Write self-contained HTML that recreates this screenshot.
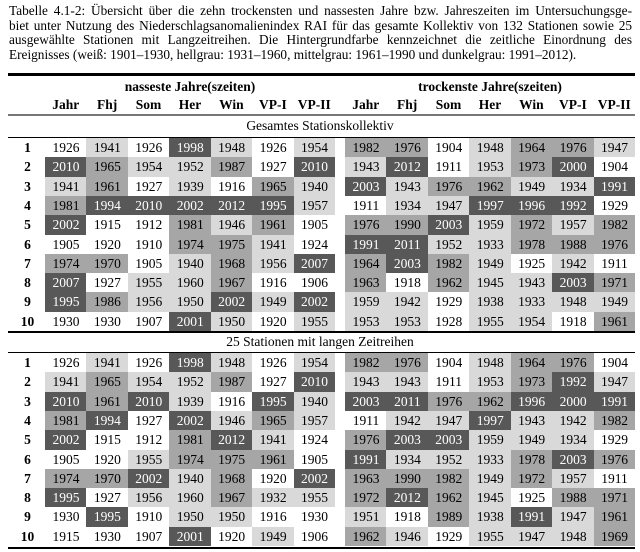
<!DOCTYPE html>
<html><head><meta charset="utf-8"><style>
html,body{margin:0;padding:0;background:#fff}
#root{position:relative;width:640px;height:552px;overflow:hidden;font-family:"Liberation Serif",serif;color:#000}
.t{position:absolute;left:9px;width:623px;font-size:13.3px;line-height:14.4px;white-space:nowrap}
.j{text-align:justify;text-align-last:justify}
.rule{position:absolute;left:8px;width:627px;background:#000}
.c{position:absolute;text-align:center;font-size:13.5px;line-height:19.3px;height:19.3px}
.h{position:absolute;text-align:center;font-weight:bold;font-size:13.5px}
.lab{position:absolute;text-align:center;font-size:13.5px;width:640px;left:0}
</style></head><body>
<div id="root">
<div class="t j" style="top:4px">Tabelle 4.1-2: Übersicht über die zehn trockensten und nassesten Jahre bzw. Jahreszeiten im Untersuchungsge-</div>
<div class="t j" style="top:18.5px">biet unter Nutzung des Niederschlagsanomalienindex RAI für das gesamte Kollektiv von 132 Stationen sowie 25</div>
<div class="t j" style="top:33px">ausgewählte Stationen mit Langzeitreihen. Die Hintergrundfarbe kennzeichnet die zeitliche Einordnung des</div>
<div class="t" style="top:47.5px">Ereignisses (weiß: 1901–1930, hellgrau: 1931–1960, mittelgrau: 1961–1990 und dunkelgrau: 1991–2012).</div>

<div class="rule" style="top:73px;height:2.5px"></div>
<div class="h" style="left:45px;width:290px;top:79px">nasseste Jahre(szeiten)</div>
<div class="h" style="left:345px;width:290px;top:79px">trockenste Jahre(szeiten)</div>
<div class="rule" style="top:114px;height:2px;background:#777"></div>
<div class="lab" style="top:118px">Gesamtes Stationskollektiv</div>
<div class="rule" style="top:136.5px;height:1px"></div>
<div class="rule" style="top:331px;height:2px"></div>
<div class="lab" style="top:334px">25 Stationen mit langen Zeitreihen</div>
<div class="rule" style="top:352px;height:1px"></div>
<div class="rule" style="top:546.5px;height:2.5px"></div>
</div>
<script>
const columns=["Jahr","Fhj","Som","Her","Win","VP-I","VP-II"];
const wetAll=[
[1926,1941,1926,1998,1948,1926,1954],
[2010,1965,1954,1952,1987,1927,2010],
[1941,1961,1927,1939,1916,1965,1940],
[1981,1994,2010,2002,2012,1995,1957],
[2002,1915,1912,1981,1946,1961,1905],
[1905,1920,1910,1974,1975,1941,1924],
[1974,1970,1905,1940,1968,1956,2007],
[2007,1927,1955,1960,1967,1916,1906],
[1995,1986,1956,1950,2002,1949,2002],
[1930,1930,1907,2001,1950,1920,1955]];
const dryAll=[
[1982,1976,1904,1948,1964,1976,1947],
[1943,2012,1911,1953,1973,2000,1904],
[2003,1943,1976,1962,1949,1934,1991],
[1911,1934,1947,1997,1996,1992,1929],
[1976,1990,2003,1959,1972,1957,1982],
[1991,2011,1952,1933,1978,1988,1976],
[1964,2003,1982,1949,1925,1942,1911],
[1963,1918,1962,1945,1943,2003,1971],
[1959,1942,1929,1938,1933,1948,1949],
[1953,1953,1928,1955,1954,1918,1961]];
const wetLong=[
[1926,1941,1926,1998,1948,1926,1954],
[1941,1965,1954,1952,1987,1927,2010],
[2010,1961,2010,1939,1916,1995,1940],
[1981,1994,1927,2002,1946,1965,1957],
[2002,1915,1912,1981,2012,1941,1924],
[1905,1920,1955,1974,1975,1961,1905],
[1974,1970,2002,1940,1968,1920,2002],
[1995,1927,1956,1960,1967,1932,1955],
[1930,1995,1910,1950,1950,1916,1930],
[1915,1930,1907,2001,1920,1949,1906]];
const dryLong=[
[1982,1976,1904,1948,1964,1976,1904],
[1943,1943,1911,1953,1973,1992,1947],
[2003,2011,1976,1962,1996,2000,1991],
[1911,1942,1947,1997,1943,1942,1982],
[1976,2003,2003,1959,1949,1934,1929],
[1991,1934,1952,1933,1978,2003,1976],
[1963,1990,1982,1949,1972,1957,1911],
[1972,2012,1962,1945,1925,1988,1971],
[1951,1918,1989,1938,1991,1947,1961],
[1962,1946,1929,1955,1947,1948,1969]];
const root=document.getElementById('root');
const CW=290/7, RH=19.3;
function bg(y){return y<=1930?'#fff':y<=1960?'#d9d9d9':y<=1990?'#a6a6a6':'#585858';}
columns.forEach((c,i)=>{
 [45,345].forEach((x0,g)=>{
  const d=document.createElement('div');d.className='h';
  d.style.left=(x0+i*CW)+'px';d.style.width=CW+'px';d.style.top='97px';
  d.textContent=c;
  
  
  root.appendChild(d);
 });
});
function block(data,x0,top,nm){
 data.forEach((row,r)=>{
  row.forEach((v,i)=>{
   const d=document.createElement('div');d.className='c';
   d.style.left=(x0+i*CW)+'px';d.style.width=(CW+0.5)+'px';
   d.style.top=(top+r*RH)+'px';d.style.height=(RH+0.5)+'px';
   d.style.background=bg(v);d.style.color=v>1990?'#fff':'#000';
   d.textContent=v;
   
   
   root.appendChild(d);
  });
 });
}
function ranks(top,nm){
 for(let r=0;r<10;r++){
  const d=document.createElement('div');d.className='c';
  d.style.left='10px';d.style.width='35px';d.style.top=(top+r*RH)+'px';
  d.style.fontWeight='bold';d.textContent=r+1;
  
  
  root.appendChild(d);
 }
}
block(wetAll,45,138,'wet-all');block(dryAll,345,138,'dry-all');ranks(138,'all');
block(wetLong,45,353,'wet-long');block(dryLong,345,353,'dry-long');ranks(353,'long');
</script>
</body></html>
